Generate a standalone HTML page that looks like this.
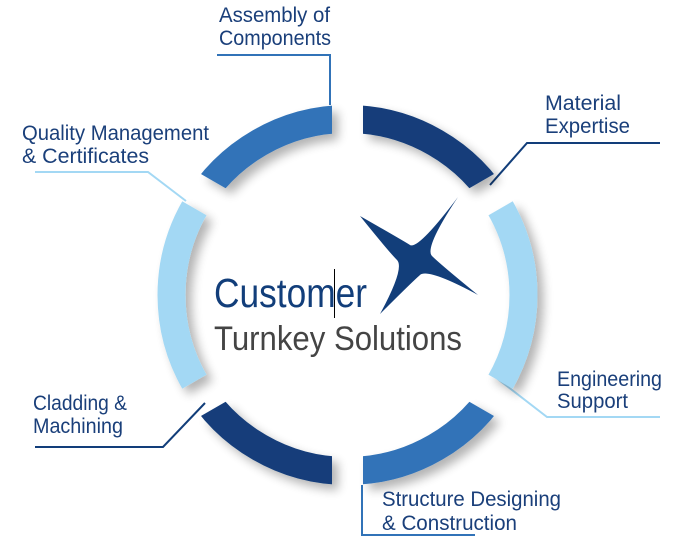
<!DOCTYPE html>
<html><head><meta charset="utf-8"><style>
html,body{margin:0;padding:0;background:#fff;}
svg{display:block;}
text{font-family:"Liberation Sans",sans-serif;}
</style></head><body>
<svg width="689" height="540" viewBox="0 0 689 540" xmlns="http://www.w3.org/2000/svg">
<defs>
<filter id="sh" x="-20%" y="-20%" width="140%" height="140%">
<feGaussianBlur in="SourceAlpha" stdDeviation="5"/>
<feOffset dx="6" dy="6" result="b"/>
<feComponentTransfer><feFuncA type="linear" slope="0.3"/></feComponentTransfer>
<feMerge><feMergeNode/><feMergeNode in="SourceGraphic"/></feMerge>
</filter>
<mask id="gaps">
<rect width="689" height="540" fill="#fff"/>
<g stroke="#000" stroke-width="33">
<line x1="347.5" y1="0" x2="347.5" y2="540" stroke-width="31"/>
<line x1="355" y1="282" x2="138.5" y2="157"/>
<line x1="340" y1="282" x2="556.5" y2="157"/>
<line x1="355" y1="308" x2="138.5" y2="433"/>
<line x1="340" y1="308" x2="556.5" y2="433"/>
</g>
</mask>
</defs>
<!-- connectors -->
<g fill="none" stroke-width="2">
<polyline points="217,55 330,55 330,105" stroke="#3173b8"/>
<polyline points="35,172 148,172 186,201" stroke="#a3d8f4"/>
<polyline points="490,185 527,143 660,143" stroke="#123e7a"/>
<polyline points="490,373 547,417 660,417" stroke="#a3d8f4"/>
<polyline points="362,485 362,535 475,535" stroke="#3173b8"/>
<polyline points="205,403 163,447 35,447" stroke="#123e7a"/>
</g>
<g filter="url(#sh)">
<g mask="url(#gaps)" fill="none" stroke-width="28">
<path d="M 499.9 207 A 176 176 0 0 1 499.9 383" stroke="#a3d8f4"/>
<path d="M 347.5 119 A 176 176 0 0 1 499.9 207" stroke="#123e7a"/>
<path d="M 195.1 207 A 176 176 0 0 1 347.5 119" stroke="#3173b8"/>
<path d="M 195.1 383 A 176 176 0 0 1 195.1 207" stroke="#a3d8f4"/>
<path d="M 347.5 471 A 176 176 0 0 1 195.1 383" stroke="#123e7a"/>
<path d="M 499.9 383 A 176 176 0 0 1 347.5 471" stroke="#3173b8"/>
</g>
</g>
<!-- star -->
<path d="M458,197 Q424,248 432,256 Q440,264 478,295 Q428,268 420,275 Q412,282 380,314 Q405,268 397,260 Q389,252 360,216 Q402,240 410,245 Q418,250 458,197 Z" fill="#123e7a"/>
<!-- center text -->
<text x="214" y="307" font-size="41" fill="#123e7a" textLength="153" lengthAdjust="spacingAndGlyphs">Customer</text>
<line x1="334.5" y1="269" x2="334.5" y2="318" stroke="#000" stroke-width="1"/>
<text x="214" y="350" font-size="34" fill="#444" textLength="248" lengthAdjust="spacingAndGlyphs">Turnkey Solutions</text>
<!-- labels -->
<g fill="#1a3f7a" font-size="21">
<text x="219" y="22" textLength="111" lengthAdjust="spacingAndGlyphs">Assembly of</text>
<text x="219" y="45" textLength="112" lengthAdjust="spacingAndGlyphs">Components</text>
<text x="22" y="140" textLength="187" lengthAdjust="spacingAndGlyphs">Quality Management</text>
<text x="22" y="163" textLength="127" lengthAdjust="spacingAndGlyphs">&amp; Certificates</text>
<text x="545" y="110" textLength="76" lengthAdjust="spacingAndGlyphs">Material</text>
<text x="545" y="133" textLength="85" lengthAdjust="spacingAndGlyphs">Expertise</text>
<text x="557" y="386" textLength="105" lengthAdjust="spacingAndGlyphs">Engineering</text>
<text x="557" y="408" textLength="71" lengthAdjust="spacingAndGlyphs">Support</text>
<text x="382" y="506" textLength="179" lengthAdjust="spacingAndGlyphs">Structure Designing</text>
<text x="382" y="530" textLength="135" lengthAdjust="spacingAndGlyphs">&amp; Construction</text>
<text x="33" y="410" textLength="94" lengthAdjust="spacingAndGlyphs">Cladding &amp;</text>
<text x="33" y="433" textLength="90" lengthAdjust="spacingAndGlyphs">Machining</text>
</g>
</svg>
</body></html>
